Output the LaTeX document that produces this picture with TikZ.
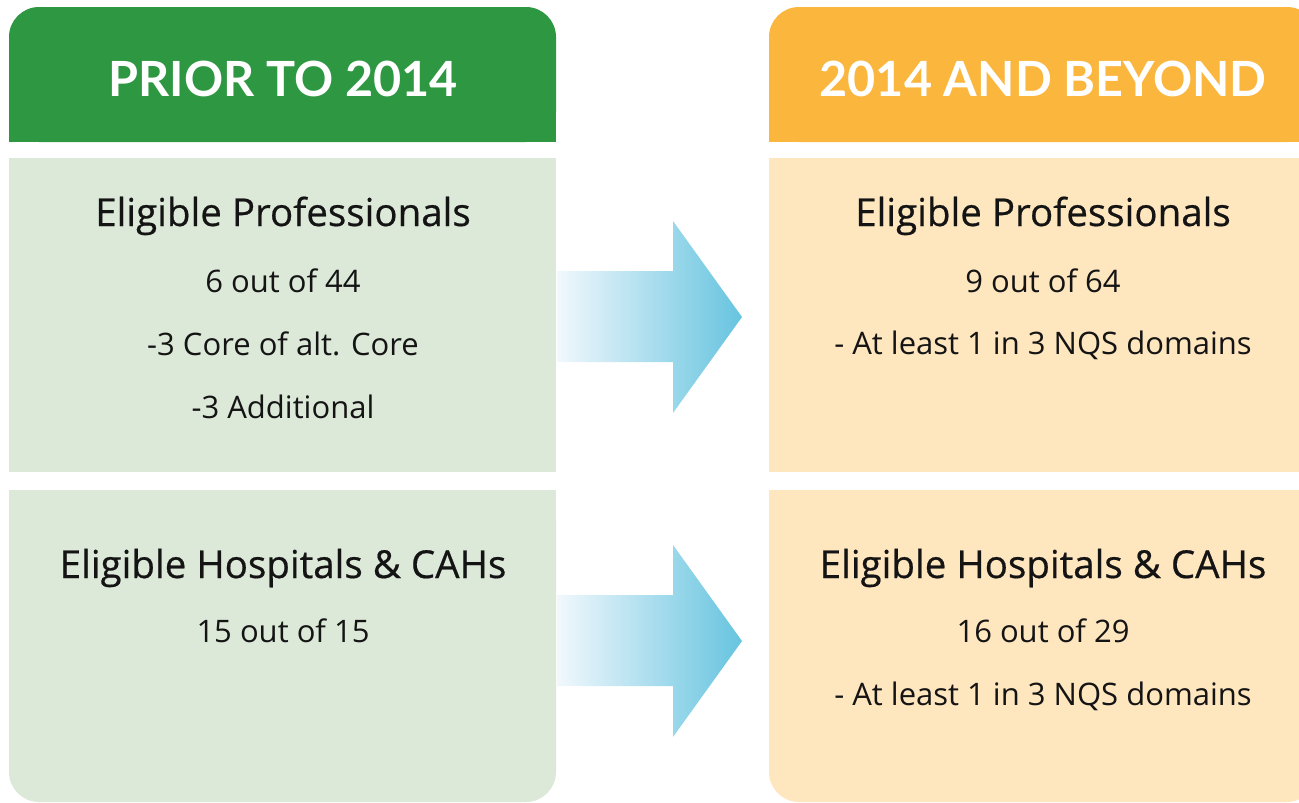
\documentclass[tikz,border=0pt]{standalone}
\usepackage{fontspec}
\setmainfont{Open Sans}
\newfontfamily\hdrfont{Lato}
\newfontfamily\ttlfont[FakeBold=0.5]{Open Sans}
\definecolor{hdrgreen}{HTML}{2E9741}
\definecolor{panelgreen}{HTML}{DCE9D8}
\definecolor{hdrorange}{HTML}{FBB63E}
\definecolor{panelorange}{HTML}{FEE6BF}
\definecolor{arrowlight}{HTML}{F2F8FD}
\definecolor{arrowdark}{HTML}{66C4DF}
\definecolor{txt}{HTML}{141414}
\begin{document}
\begin{tikzpicture}[x=1pt,y=-1pt,
  hdr/.style={anchor=base,text=white,font=\hdrfont\fontsize{48.5}{56}\selectfont\bfseries,inner sep=0pt},
  ttl/.style={anchor=base,text=txt,font=\ttlfont\fontsize{38.5}{44}\selectfont,inner sep=0pt},
  body/.style={anchor=base,text=txt,font=\fontsize{31}{36}\selectfont,inner sep=0pt},
  flow/.style={left color=arrowlight,right color=arrowdark,draw=none}]
\useasboundingbox (0,0) rectangle (1299,803);
\clip (0,0) rectangle (1299,803);
% left column
\fill[hdrgreen,rounded corners=30] (9,7) rectangle (556,142);
\fill[hdrgreen] (9,70) rectangle (556,142);
\fill[panelgreen] (9,158) rectangle (556,472);
\fill[panelgreen,rounded corners=30] (9,490) rectangle (556,802);
\fill[panelgreen] (9,490) rectangle (556,700);
% right column
\fill[hdrorange,rounded corners=30] (769,7) rectangle (1317,142);
\fill[hdrorange] (769,70) rectangle (1317,142);
\fill[panelorange] (769,158) rectangle (1317,472);
\fill[panelorange,rounded corners=30] (769,490) rectangle (1317,802);
\fill[panelorange] (769,490) rectangle (1317,700);
% arrows
\shade[flow] (557,271) -- (673,271) -- (673,221) -- (742,317) -- (673,413) -- (673,362) -- (557,362) -- cycle;
\shade[flow] (557,595) -- (673,595) -- (673,545) -- (742,641) -- (673,737) -- (673,686) -- (557,686) -- cycle;
% texts left
\node[hdr] (h1) at (283,96) {PRIOR TO 2014};
\node[ttl] (t1) at (283,226) {Eligible Professionals};
\node[body] (b1) at (283,292) {6 out of 44};
\node[body] (b2) at (283,355) {-3 Core of alt. Core};
\node[body] (b3) at (283,418) {-3 Additional};
\node[ttl] (t2) at (283,578) {Eligible Hospitals \& CAHs};
\node[body] (b4) at (283,642) {15 out of 15};
% texts right
\node[hdr] (h2) at (1043,96) {2014 AND BEYOND};
\node[ttl] (t3) at (1043,226) {Eligible Professionals};
\node[body] (b5) at (1043,292) {9 out of 64};
\node[body] (b6) at (1043,354) {- At least 1 in 3 NQS domains};
\node[ttl] (t4) at (1043,578) {Eligible Hospitals \& CAHs};
\node[body] (b7) at (1043,642) {16 out of 29};
\node[body] (b8) at (1043,705) {- At least 1 in 3 NQS domains};
\end{tikzpicture}
\end{document}
